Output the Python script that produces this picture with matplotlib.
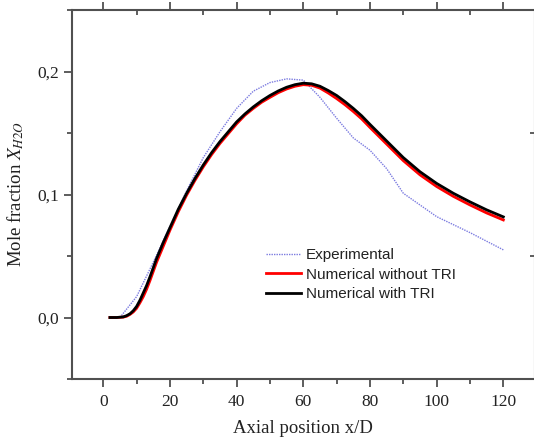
import matplotlib
matplotlib.use("Agg")
import matplotlib.pyplot as plt
from matplotlib.ticker import MultipleLocator, FixedLocator, FixedFormatter

# ---- data ----
exp_x = [5, 10, 15, 20, 25, 30, 35, 40, 45, 50, 55, 60, 65, 70, 75, 80, 85, 90, 100, 110, 120]
exp_y = [0.0, 0.017, 0.045, 0.074, 0.103, 0.130, 0.151, 0.170, 0.184, 0.191, 0.194, 0.193,
         0.179, 0.162, 0.146, 0.136, 0.121, 0.101, 0.082, 0.069, 0.055]

num_x = [2, 4, 6, 7, 8, 9, 10, 11, 12, 13, 14, 16, 18, 20, 22.5, 25, 27.5, 30, 32.5, 35,
         37.5, 40, 42.5, 45, 47.5, 50, 52.5, 55, 57.5, 60, 62.5, 65, 67.5, 70, 72.5, 75,
         77.5, 80, 85, 90, 95, 100, 105, 110, 115, 120]
notri_y = [0.0, 0.0, 0.0003, 0.001, 0.0025, 0.0045, 0.0075, 0.012, 0.017, 0.023, 0.030,
           0.045, 0.058, 0.071, 0.086, 0.0995, 0.1115, 0.1225, 0.1325, 0.1415, 0.1495, 0.1575,
           0.1645, 0.170, 0.175, 0.179, 0.1828, 0.1858, 0.188, 0.1893, 0.1888, 0.1865, 0.1825,
           0.178, 0.173, 0.1675, 0.1615, 0.1545, 0.141, 0.1275, 0.116, 0.1065, 0.0985,
           0.0915, 0.085, 0.0793]
tri_y = [0.0, 0.0, 0.0005, 0.0015, 0.003, 0.0055, 0.009, 0.014, 0.020, 0.026, 0.033,
         0.048, 0.061, 0.073, 0.088, 0.101, 0.113, 0.124, 0.134, 0.143, 0.151, 0.159,
         0.1655, 0.1712, 0.1762, 0.1805, 0.1842, 0.1872, 0.1893, 0.1905, 0.1900, 0.188, 0.1845,
         0.1805, 0.1755, 0.170, 0.164, 0.157, 0.1435, 0.130, 0.1185, 0.109, 0.101, 0.094,
         0.0875, 0.0818]

labels = ["Experimental", "Numerical without TRI", "Numerical with TRI"]
xticks = [0, 20, 40, 60, 80, 100, 120]
yticks = [0.0, 0.1, 0.2]
yticklabels = ["0,0", "0,1", "0,2"]

plt.rcParams['mathtext.fontset'] = 'stix'

W, H = 534, 443
fig = plt.figure(figsize=(W / 100, H / 100), dpi=100)
ax = fig.add_axes([71.6 / W, (H - 379) / H, (535 - 71.6) / W, (379 - 10) / H])

ax.plot(exp_x, exp_y, color='#7b7be0', lw=1.0, linestyle=(0, (1, 0.8)), label=labels[0])
ax.plot(num_x, notri_y, color='#ff0000', lw=2.0, label=labels[1], solid_joinstyle='round')
ax.plot(num_x, tri_y, color='#000000', lw=2.0, label=labels[2], solid_joinstyle='round')

ax.set_xlim(-9.5, 129.5)
ax.set_ylim(-0.05, 0.25)

ax.xaxis.set_major_locator(FixedLocator(xticks))
ax.xaxis.set_minor_locator(MultipleLocator(10))
ax.yaxis.set_major_locator(FixedLocator(yticks))
ax.yaxis.set_major_formatter(FixedFormatter(yticklabels))
ax.yaxis.set_minor_locator(MultipleLocator(0.05))

spine_c = '#505050'
for s in ax.spines.values():
    s.set_color(spine_c)
    s.set_linewidth(1.5)

serif = 'Liberation Serif'
ax.tick_params(axis='both', which='both', colors=spine_c, labelcolor='#222222',
               width=1.3, labelsize=12.5)
ax.tick_params(axis='x', which='both', bottom=True, top=True, direction='out')
ax.tick_params(axis='y', which='both', left=True, right=True, direction='out')
ax.tick_params(which='major', length=6)
ax.tick_params(which='minor', length=3.5)
for lab in ax.get_xticklabels() + ax.get_yticklabels():
    lab.set_fontfamily(serif)
# top and right ticks point inward
for t in ax.xaxis.get_major_ticks() + ax.xaxis.get_minor_ticks():
    t.tick2line.set_marker(matplotlib.lines.TICKDOWN)
for t in ax.yaxis.get_major_ticks() + ax.yaxis.get_minor_ticks():
    t.tick2line.set_marker(matplotlib.lines.TICKLEFT)
ax.tick_params(axis='x', pad=5)
ax.tick_params(axis='y', pad=3)

ax.set_xlabel("Axial position x/D", fontfamily=serif, fontsize=13.5, labelpad=7, color='#222222')
ax.set_ylabel(r"Mole fraction $X_{H2O}$", fontfamily=serif, fontsize=13.5, labelpad=8, color='#222222')

leg = ax.legend(loc='upper left', bbox_to_anchor=(266 / W, 1 - 248 / H),
                bbox_transform=fig.transFigure, frameon=False,
                prop={'family': 'Liberation Sans', 'size': 11},
                handlelength=2.3, handletextpad=0.3, labelspacing=0.37,
                borderpad=0, borderaxespad=0)
for t in leg.get_texts():
    t.set_color('#222222')

fig.savefig("out.png", dpi=100)
